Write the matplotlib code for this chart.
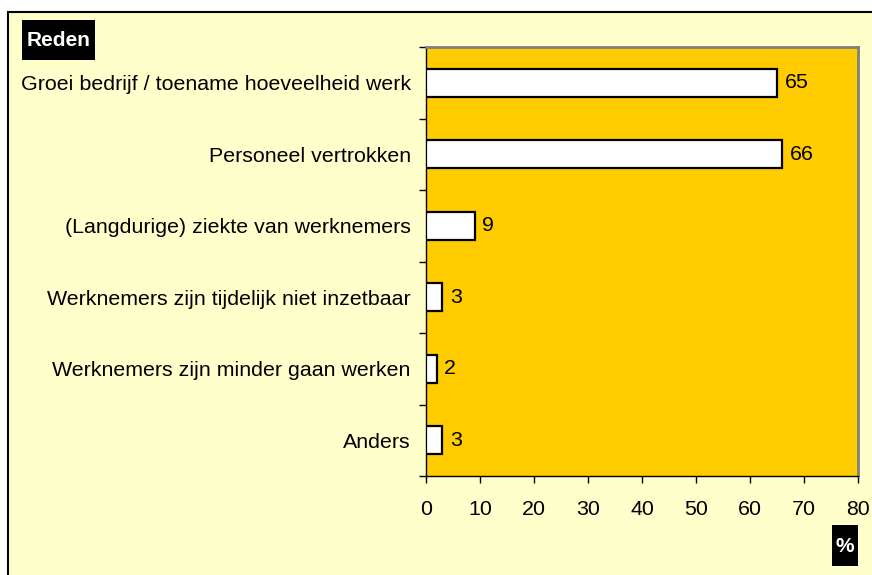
import matplotlib.pyplot as plt
from matplotlib.patches import Rectangle

plt.rcParams['font.family'] = ['Liberation Sans', 'DejaVu Sans']

categories = ['Groei bedrijf / toename hoeveelheid werk', 'Personeel vertrokken',
              '(Langdurige) ziekte van werknemers', 'Werknemers zijn tijdelijk niet inzetbaar',
              'Werknemers zijn minder gaan werken', 'Anders']
values = [65, 66, 9, 3, 2, 3]
xticks = [0, 10, 20, 30, 40, 50, 60, 70, 80]

W, H = 872, 575
fs = 15.4
fig = plt.figure(figsize=(W / 100, H / 100), dpi=100)
fig.patch.set_facecolor('white')


def box(x0, y0, x1, y1, **kw):
    # rectangle in pixel coords (top-left origin)
    return Rectangle((x0 / W, 1 - y1 / H), (x1 - x0) / W, (y1 - y0) / H,
                     transform=fig.transFigure, **kw)


# light yellow panel with black border
fig.patches.append(box(8, 12, W + 10, H + 10, facecolor='#FFFFCC', edgecolor='black',
                       linewidth=1.5, zorder=-10))
fig.patches.append(box(22, 20, 95, 60, facecolor='black', edgecolor='none', zorder=-5))
fig.patches.append(box(832, 525, 858, 566, facecolor='black', edgecolor='none', zorder=-5))

ax = fig.add_axes([426 / W, 1 - 476 / H, (858 - 426) / W, (476 - 47) / H])
ax.set_facecolor('#FFCC00')

pos = list(range(len(categories)))
ax.barh(pos, values, height=0.39, color='white', edgecolor='black', linewidth=1.6, zorder=3)
for p, v in zip(pos, values):
    ax.text(v + 1.4, p, str(v), va='center', ha='left', fontsize=fs, zorder=4)

ax.set_xlim(0, 80)
ax.set_ylim(len(categories) - 0.5, -0.5)
ax.set_xticks(xticks)
ax.set_xticklabels([str(t) for t in xticks], fontsize=fs)
ax.tick_params(axis='x', length=5, width=1, pad=12.5, direction='out')

ax.set_yticks([p - 0.5 for p in pos] + [len(pos) - 0.5])
ax.set_yticklabels([])
ax.set_yticks(pos, minor=True)
ax.set_yticklabels(categories, minor=True, fontsize=fs)
ax.tick_params(axis='y', which='major', length=5, width=1, direction='out')
ax.tick_params(axis='y', which='minor', length=0, pad=11)

for s in ['top', 'right']:
    ax.spines[s].set_color('#808080')
    ax.spines[s].set_linewidth(2)
for s in ['left', 'bottom']:
    ax.spines[s].set_color('black')
    ax.spines[s].set_linewidth(1)

fig.text(58.5 / W, 1 - 40 / H, 'Reden', color='white', fontweight='bold', fontsize=15,
         ha='center', va='center')
fig.text(845 / W, 1 - 546 / H, '%', color='white', fontweight='bold', fontsize=15,
         ha='center', va='center')

fig.savefig('out.png', dpi=100)
